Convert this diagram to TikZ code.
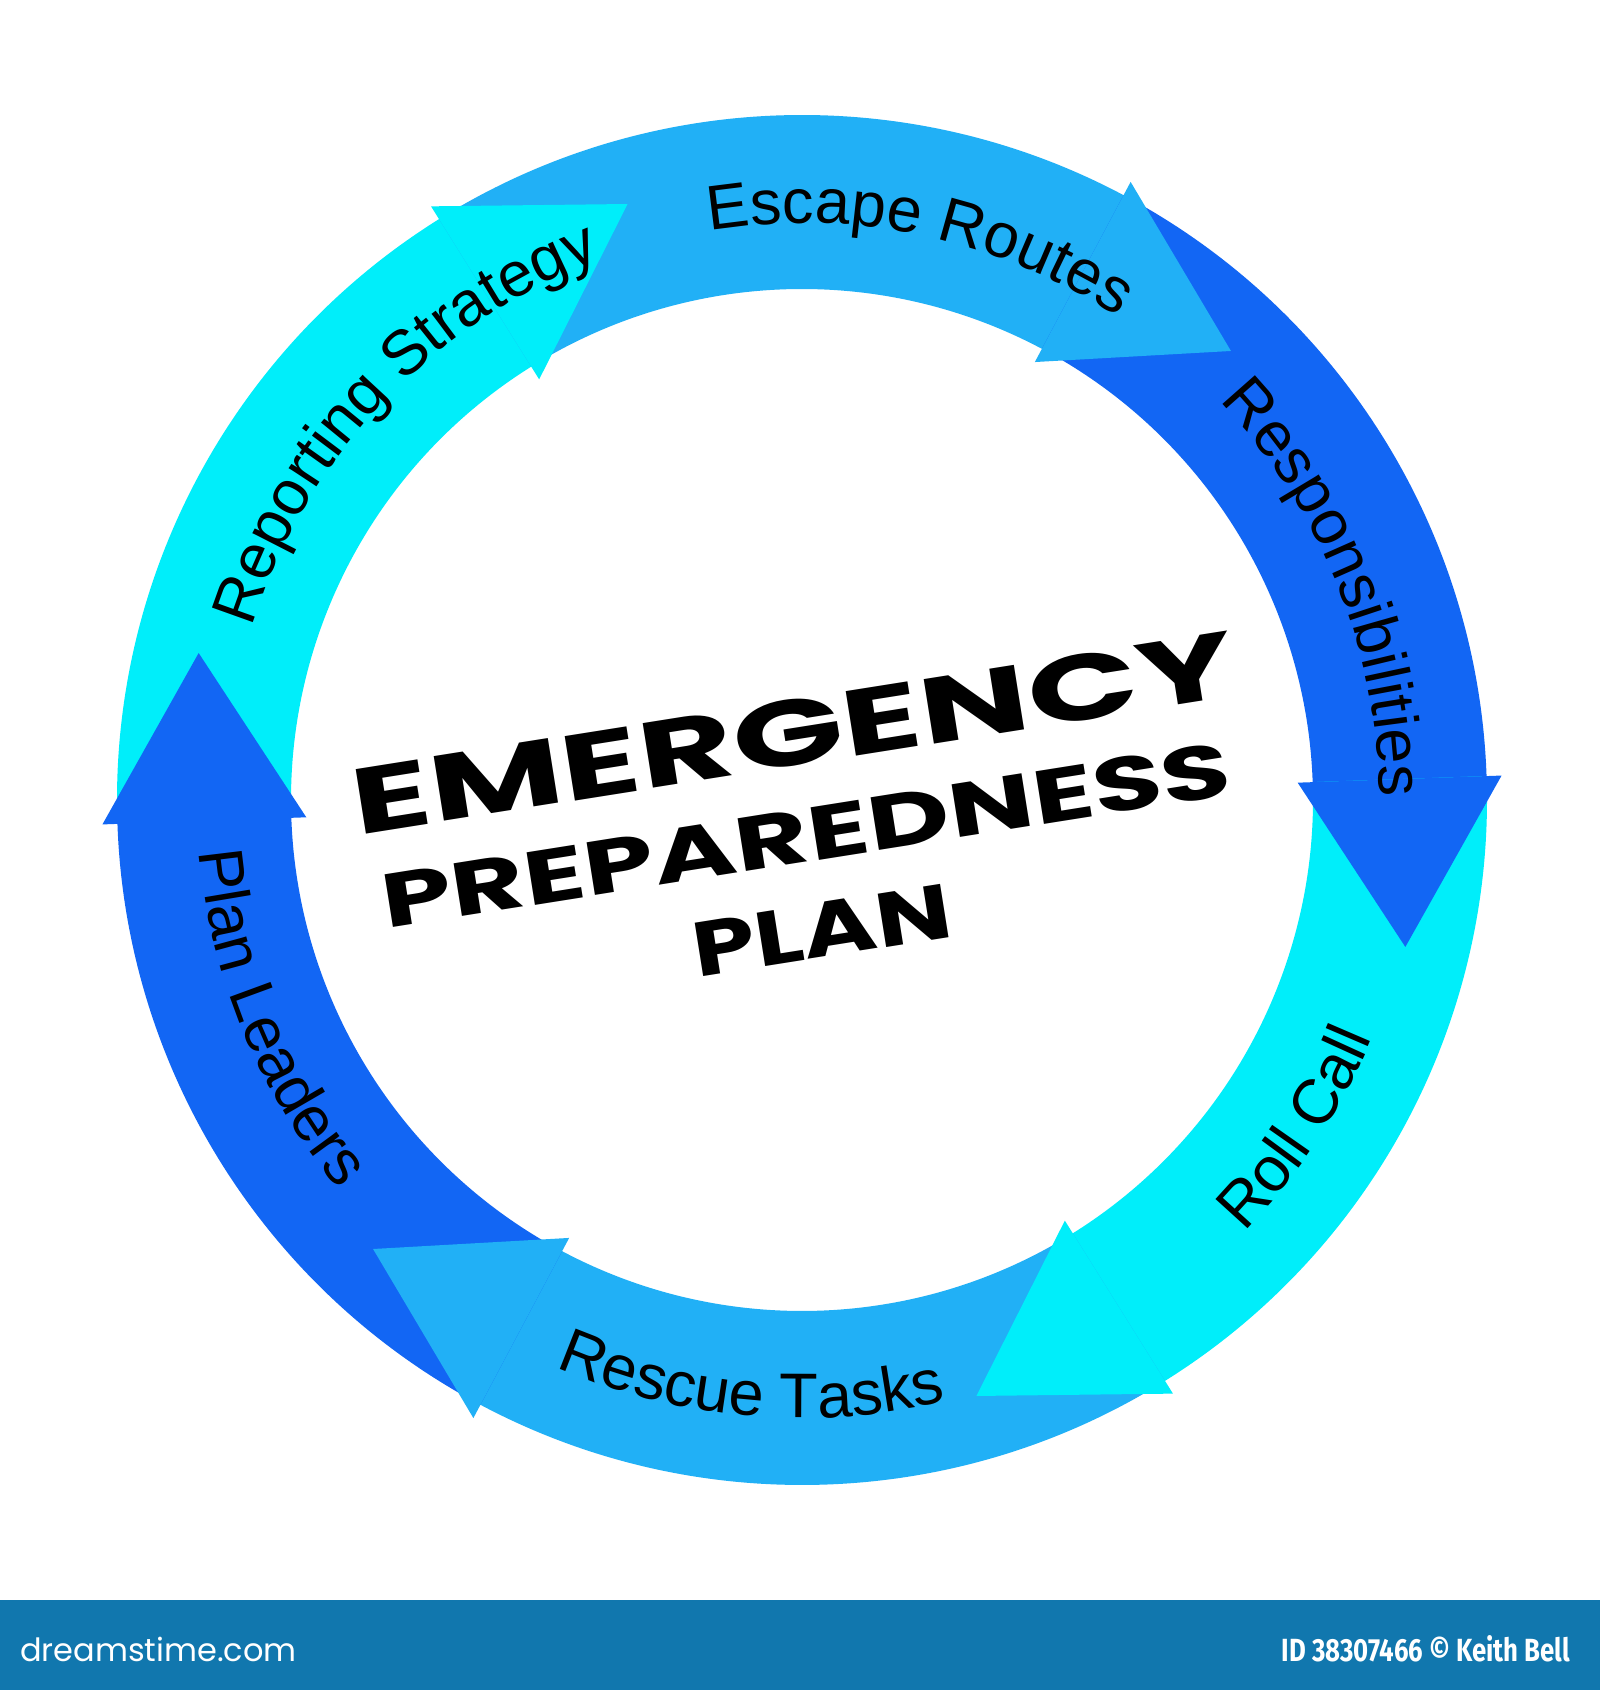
\documentclass[tikz,border=0pt]{standalone}
\usepackage{fontspec}
\setmainfont{Liberation Sans}
\newfontfamily\titlefont{Poppins}
\newfontfamily\logofont{Poppins}
\newfontfamily\idfont{Fira Sans}
\usetikzlibrary{decorations.text}
\definecolor{cMed}{RGB}{33,176,246}
\definecolor{cDark}{RGB}{18,102,244}
\definecolor{cCyan}{RGB}{0,238,250}
\definecolor{cBar}{RGB}{17,119,174}
\newcommand\labfont{\fontsize{63}{70}\selectfont}
\newcommand\cwlab[3]{%
  \pgfmathsetmacro\labsa{#1+50}\pgfmathsetmacro\labea{#1-50}%
  \path[decorate,decoration={text along path,text={|\labfont|#3},text align=center}]
    (\labsa:#2) arc[start angle=\labsa,end angle=\labea,radius=#2];}
\newcommand\ccwlab[3]{%
  \pgfmathsetmacro\labsa{#1-50}\pgfmathsetmacro\labea{#1+50}%
  \path[decorate,decoration={text along path,text={|\labfont|#3},text align=center}]
    (\labsa:#2) arc[start angle=\labsa,end angle=\labea,radius=#2];}
\tikzset{titletext/.style={rotate=9,inner sep=0pt,text=black}}
\begin{document}
\begin{tikzpicture}[x=1pt,y=1pt]
\fill[white] (0,0) rectangle (1600,1690);
\useasboundingbox (0,0) rectangle (1600,1690);
\begin{scope}[shift={(802,890)}]
  % arrow bodies (each runs a little under its own head to hide seams)
  \foreach \a/\c in {122/cCyan,62/cMed,2/cDark,-58/cCyan,-118/cMed,-178/cDark}{
    \pgfmathsetmacro\b{\a+60}
    \pgfmathsetmacro\e{\a-1.5}
    \fill[\c] (\b:685pt) arc[start angle=\b,end angle=\e,radius=685pt]
      -- (\e:511pt) arc[start angle=\e,end angle=\b,radius=511pt] -- cycle;
  }
  % arrow heads
  \foreach \a/\c in {122/cCyan,62/cMed,2/cDark,-58/cCyan,-118/cMed,-178/cDark}{
    \pgfmathsetmacro\t{\a-15.69}
    \fill[\c] (\a:700pt) -- (\t:621pt) -- (\a:496pt) -- cycle;
  }
  % labels
  \cwlab{78}{577pt}{Escape Routes}
  \cwlab{22}{577pt}{Responsibilities}
  \cwlab{136.5}{577pt}{Reporting Strategy}
  \ccwlab{-33.5}{618pt}{Roll Call}
  \ccwlab{-95}{618pt}{Rescue Tasks}
  \ccwlab{202.5}{605pt}{Plan Leaders}
\end{scope}
% title
\node[titletext] (emerg) at (793,957) {\resizebox{892pt}{66pt}{\titlefont\bfseries EMERGENCY}};
\node[titletext] (prep) at (806,855) {\resizebox{858pt}{54pt}{\titlefont\bfseries PREPAREDNESS}};
\node[titletext] (plan) at (822,760) {\resizebox{260pt}{54pt}{\titlefont\bfseries PLAN}};
% bottom bar
\fill[cBar] (0,0) rectangle (1600,90);
\node[anchor=base west,text=white,inner sep=0pt] (logo) at (20,28) {\fontsize{32}{36}\logofont dreamstime.com};
\node[anchor=base east,text=white,inner sep=0pt] (credit) at (1570,28) {\resizebox{288pt}{26pt}{\idfont\bfseries ID 38307466 © Keith Bell}};
\end{tikzpicture}
\end{document}
